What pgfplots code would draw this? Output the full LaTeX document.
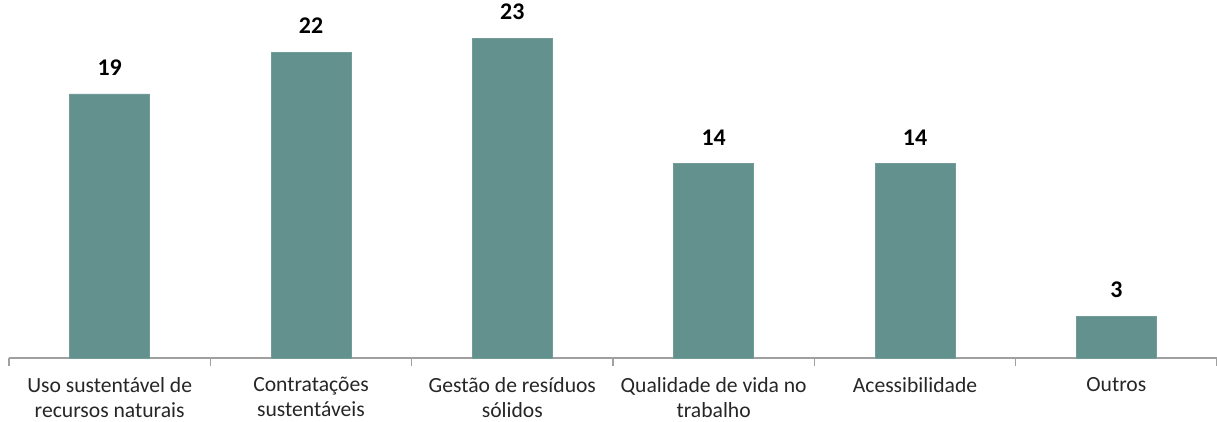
\documentclass[border=0pt]{standalone}
\usepackage{fontspec}
\setmainfont{Carlito}
\usepackage{pgfplots}
\pgfplotsset{compat=1.18}
\definecolor{barteal}{RGB}{99,145,142}
\definecolor{axisgray}{RGB}{160,160,160}
\begin{document}
\begin{tikzpicture}
\begin{axis}[
  name=ax,
  scale only axis, width=1208bp, height=358bp,
  xmin=-0.5, xmax=5.5, ymin=0, ymax=25.75,
  axis x line*=bottom, axis y line=none,
  x axis line style={axisgray, line width=1.3bp, -},
  xtick={0,...,5},
  xticklabels={{Uso sustentável de\\recursos naturais},{Contratações\\sustentáveis},{Gestão de resíduos\\sólidos},{Qualidade de vida no\\trabalho},{Acessibilidade},{Outros}},
  major tick length=0pt,
  minor xtick={-0.5,0.5,...,5.5},
  minor tick length=8bp, tick align=outside,
  minor tick style={axisgray, line width=1.3bp},
  xticklabel style={font=\fontsize{21.7}{25}\selectfont, align=center, text=black!85, yshift=-16bp},
  ybar, bar width=80bp, bar shift=0pt,
  nodes near coords,
  /pgf/number format/assume math mode=true,
  every node near coord/.append style={font=\bfseries\fontsize{24}{26}\selectfont, anchor=south, inner sep=0pt, yshift=18bp, text=black},
  clip=false,
]
\addplot[fill=barteal, draw=barteal!90!white] coordinates {(0,19) (1,22) (2,23) (3,14) (4,14) (5,3)};
\end{axis}
\pgfresetboundingbox
\path ([xshift=-9bp,yshift=-63bp]ax.south west) rectangle ([xshift=0bp]ax.north east);
\end{tikzpicture}
\end{document}
